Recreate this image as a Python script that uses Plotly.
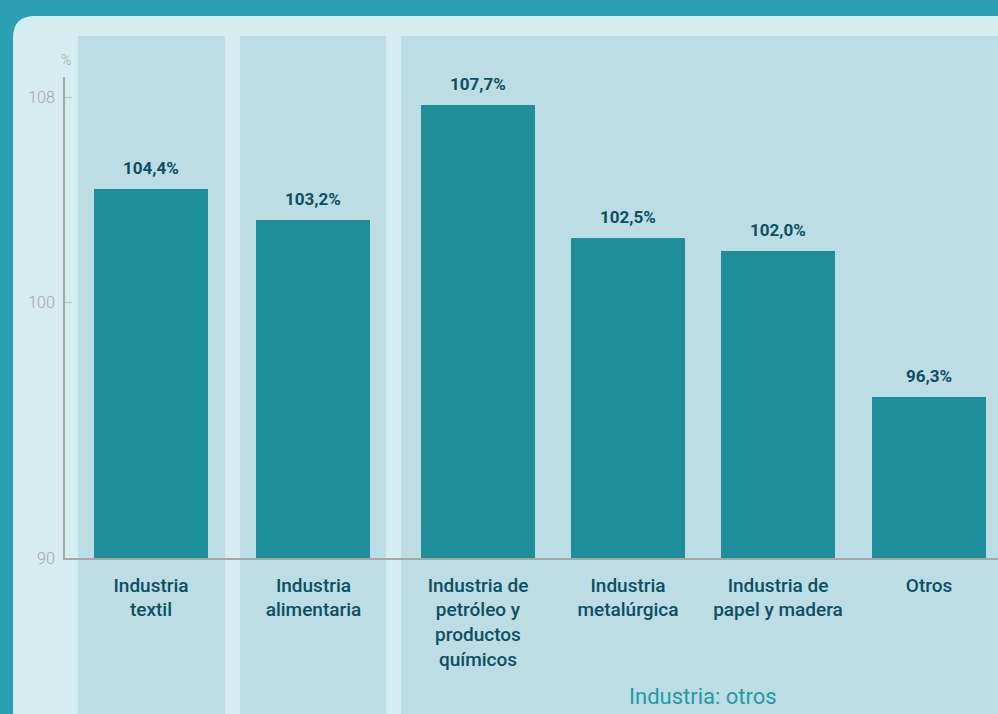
import plotly.graph_objects as go

# ---- data ----
categories = ["Industria<br>textil", "Industria<br>alimentaria",
              "Industria de<br>petróleo y<br>productos<br>químicos",
              "Industria<br>metalúrgica", "Industria de<br>papel y madera", "Otros"]
values = [104.4, 103.2, 107.7, 102.5, 102.0, 96.3]
y_ticks = [90, 100, 108]
group_label = "Industria: otros"
unit_label = "%"

# ---- layout helpers ----
W, H = 998, 714
slot_offsets = [0, 0.083, 0.18, 0.18, 0.18, 0.187]
xpos = [i + o for i, o in enumerate(slot_offsets)]
px_per_slot = 150.0
x0_px = 151.0  # pixel of slot 0

def px2paper_x(px):
    return px / W

def px2paper_y(py):
    return 1 - py / H

x_range = [(65 - x0_px) / px_per_slot, (W - x0_px) / px_per_slot]
y_top_px, y_bot_px = 77, 558
px_per_unit = 25.6
y_range = [90, 90 + (y_bot_px - y_top_px) / px_per_unit]

OUTER = "#2aa0b2"
CARD = "#d5ecf0"
PANEL = "#bcdde3"
BAR = "#1e8f9a"
DARK = "#0d4f63"
GREY = "#a6a6a6"
FONT = "Roboto"

labels = [f"{v:.1f}".replace(".", ",") + "%" for v in values]

fig = go.Figure()
fig.add_trace(go.Bar(x=xpos, y=values, width=114 / px_per_slot,
                     marker=dict(color=BAR, line=dict(width=0)),
                     hoverinfo="skip"))

shapes = []
# card with rounded top-left corner
cx0, cy0 = px2paper_x(13), px2paper_y(16)
rx, ry = 22 / W, 22 / H
shapes.append(dict(type="path", xref="paper", yref="paper", layer="below",
                   path=f"M {cx0},-0.02 L {cx0},{cy0 - ry} Q {cx0},{cy0} {cx0 + rx},{cy0} "
                        f"L 1.02,{cy0} L 1.02,-0.02 Z",
                   fillcolor=CARD, line=dict(width=0)))
for a, b in [(78, 225), (240, 386), (401, 1000)]:
    shapes.append(dict(type="rect", xref="paper", yref="paper", layer="below",
                       x0=px2paper_x(a), x1=px2paper_x(b), y0=-0.02, y1=px2paper_y(36),
                       fillcolor=PANEL, line=dict(width=0)))

annotations = []
for x, v, t in zip(xpos, values, labels):
    annotations.append(dict(x=x, y=v, text=t, showarrow=False, yshift=21,
                            font=dict(family=FONT, size=17, color=DARK, weight=700)))
annotations.append(dict(xref="paper", yref="paper", x=px2paper_x(703), y=px2paper_y(696),
                        xanchor="center", yanchor="middle",
                        text=group_label, showarrow=False,
                        font=dict(family=FONT, size=22, color="#229aa6")))
annotations.append(dict(xref="paper", yref="paper", x=px2paper_x(66), y=px2paper_y(60),
                        text=unit_label, showarrow=False, xanchor="center", yanchor="middle",
                        font=dict(family=FONT, size=14, color=GREY, weight=300)))

fig.update_layout(
    template="none",
    width=W, height=H, margin=dict(l=0, r=0, t=0, b=0, pad=0, autoexpand=False),
    paper_bgcolor=OUTER, plot_bgcolor="rgba(0,0,0,0)",
    showlegend=False, shapes=shapes, annotations=annotations, bargap=0,
    xaxis=dict(domain=[65 / W, 1], range=x_range, tickvals=xpos, ticktext=categories,
               automargin=False,
               showgrid=False, zeroline=False, showline=True, linecolor=GREY, linewidth=1.5,
               ticks="", ticklabelstandoff=9,
               tickfont=dict(family=FONT, size=19, color=DARK, weight=500), fixedrange=True),
    yaxis=dict(domain=[1 - y_bot_px / H, 1 - y_top_px / H], range=y_range,
               automargin=False,
               tickvals=y_ticks, showgrid=False, zeroline=False, showline=True,
               linecolor=GREY, linewidth=2, ticks="inside", ticklen=7, tickcolor="#c0c0c0",
               tickwidth=1, ticklabelstandoff=5,
               tickfont=dict(family=FONT, size=16, color=GREY, weight=300)),
)

fig.write_html("out.html", config={"displayModeBar": False},
               post_script="document.body.style.margin='0';document.body.style.overflow='hidden';")
